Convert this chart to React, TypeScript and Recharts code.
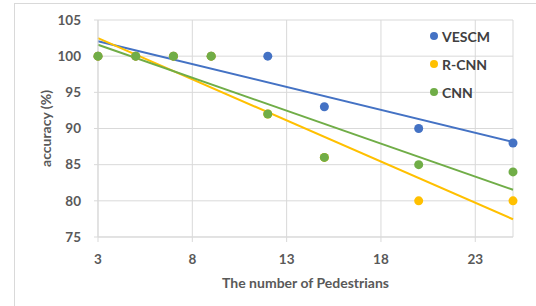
import React from "react";
import {
  ScatterChart,
  Scatter,
  XAxis,
  YAxis,
  CartesianGrid,
  ReferenceLine
} from "recharts";

const pedestrians = [3, 5, 7, 9, 12, 15, 20, 25];
const vescm = [100, 100, 100, 100, 100, 93, 90, 88];
const rcnn = [100, 100, 100, 100, 92, 86, 80, 80];
const cnn = [100, 100, 100, 100, 92, 86, 85, 84];

const xTicks = [3, 8, 13, 18, 23];
const yTicks = [75, 80, 85, 90, 95, 100, 105];

const FONT = "Lato, 'Open Sans', sans-serif";

const series = [
  { name: "VESCM", color: "#4472C4", values: vescm },
  { name: "R-CNN", color: "#FFC000", values: rcnn },
  { name: "CNN", color: "#70AD47", values: cnn }
];

// least squares line, like Excel's linear trendline
function trend(values: number[]) {
  const n = pedestrians.length;
  const mx = pedestrians.reduce((a, b) => a + b, 0) / n;
  const my = values.reduce((a, b) => a + b, 0) / n;
  let sxy = 0;
  let sxx = 0;
  pedestrians.forEach((x, i) => {
    sxy += (x - mx) * (values[i] - my);
    sxx += (x - mx) * (x - mx);
  });
  const slope = sxy / sxx;
  const x0 = 3;
  const x1 = 25;
  return [
    { x: x0, y: my + slope * (x0 - mx) },
    { x: x1, y: my + slope * (x1 - mx) }
  ];
}

const Dot = (props: any) => {
  const { cx, cy, fill } = props;
  return <circle cx={cx} cy={cy} r={4.5} fill={fill} />;
};

const LegendBox = () => (
  <div
    style={{
      position: "absolute",
      left: 415,
      top: 18,
      fontFamily: FONT,
      fontWeight: 700,
      fontSize: 14,
      color: "#404040"
    }}
  >
    {series.map((s) => (
      <div key={s.name} style={{ display: "flex", alignItems: "center", height: 28 }}>
        <span
          style={{
            width: 8,
            height: 8,
            borderRadius: 4,
            background: s.color,
            display: "inline-block",
            marginRight: 4
          }}
        />
        {s.name}
      </div>
    ))}
  </div>
);

const YLabel = (props: any) => {
  const vb = props.viewBox || {};
  const cx = 30;
  const cy = vb.y + vb.height / 2;
  return (
    <text
      x={cx}
      y={cy}
      transform={`rotate(-90 ${cx} ${cy})`}
      textAnchor="middle"
      dominantBaseline="central"
      fontFamily={FONT}
      fontWeight={700}
      fontSize={14}
      fill="#595959"
    >
      accuracy (%)
    </text>
  );
};

export default function App() {
  return (
    <div
      style={{
        position: "absolute",
        left: 14,
        top: 3,
        width: 522,
        height: 303,
        borderLeft: "1px solid #d9d9d9",
        borderTop: "1px solid #d9d9d9",
        background: "#fff",
        boxSizing: "border-box",
        overflow: "hidden"
      }}
    >
      <ScatterChart width={522} height={303} margin={{ top: 16, right: 24, left: -1, bottom: 0 }}>
        <CartesianGrid stroke="#d9d9d9" />
        <XAxis
          type="number"
          dataKey="x"
          domain={[3, 25]}
          ticks={xTicks}
          height={70}
          axisLine={{ stroke: "#d9d9d9" }}
          tickLine={{ stroke: "#d9d9d9" }}
          tickSize={5}
          tickMargin={12}
          tick={{ fontFamily: FONT, fontWeight: 700, fontSize: 13.5, fill: "#595959" }}
          label={{
            value: "The number of Pedestrians",
            position: "insideBottom",
            offset: 19,
            fontFamily: FONT,
            fontWeight: 700,
            fontSize: 14,
            fill: "#595959"
          }}
        />
        <YAxis
          type="number"
          dataKey="y"
          domain={[75, 105]}
          ticks={yTicks}
          width={84}
          axisLine={{ stroke: "#d9d9d9" }}
          tickLine={{ stroke: "#d9d9d9" }}
          tickSize={4}
          tickMargin={13}
          tick={{ fontFamily: FONT, fontWeight: 700, fontSize: 13.5, fill: "#595959" }}
          label={(p: any) => <YLabel {...p} />}
        />
        {series.map((s) => (
          <Scatter
            key={s.name}
            name={s.name}
            data={pedestrians.map((x, i) => ({ x, y: s.values[i] }))}
            fill={s.color}
            shape={Dot}
            isAnimationActive={false}
          />
        ))}
        {series.map((s) => (
          <ReferenceLine
            key={s.name + "-trend"}
            segment={trend(s.values)}
            stroke={s.color}
            strokeWidth={2}
          />
        ))}
      </ScatterChart>
      <LegendBox />
    </div>
  );
}
